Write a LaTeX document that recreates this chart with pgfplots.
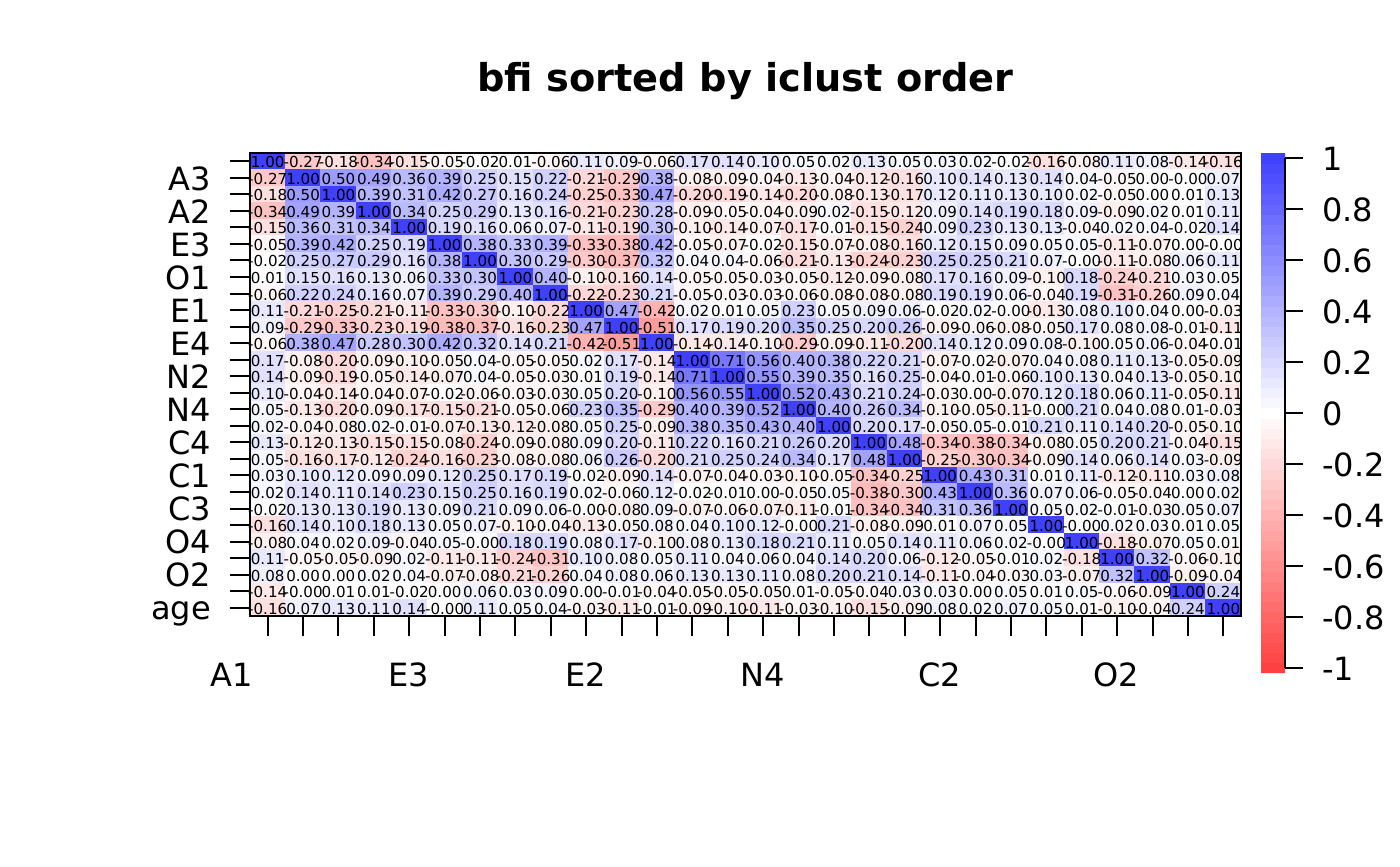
\documentclass[border=0pt]{standalone}
\usepackage{fontspec}
\setmainfont{DejaVu Sans}
\usepackage{pgfplots}
\usepackage{pgfplotstable}
\pgfplotsset{compat=1.18}

% correlations, row after row
\pgfplotstableread[row sep=crcr]{
r\\
1.00\\-0.27\\-0.18\\-0.34\\-0.15\\-0.05\\-0.02\\0.01\\-0.06\\0.11\\0.09\\-0.06\\0.17\\0.14\\0.10\\0.05\\0.02\\0.13\\0.05\\0.03\\0.02\\-0.02\\-0.16\\-0.08\\0.11\\0.08\\-0.14\\-0.16\\
-0.27\\1.00\\0.50\\0.49\\0.36\\0.39\\0.25\\0.15\\0.22\\-0.21\\-0.29\\0.38\\-0.08\\-0.09\\-0.04\\-0.13\\-0.04\\-0.12\\-0.16\\0.10\\0.14\\0.13\\0.14\\0.04\\-0.05\\0.00\\-0.00\\0.07\\
-0.18\\0.50\\1.00\\0.39\\0.31\\0.42\\0.27\\0.16\\0.24\\-0.25\\-0.33\\0.47\\-0.20\\-0.19\\-0.14\\-0.20\\-0.08\\-0.13\\-0.17\\0.12\\0.11\\0.13\\0.10\\0.02\\-0.05\\0.00\\0.01\\0.13\\
-0.34\\0.49\\0.39\\1.00\\0.34\\0.25\\0.29\\0.13\\0.16\\-0.21\\-0.23\\0.28\\-0.09\\-0.05\\-0.04\\-0.09\\0.02\\-0.15\\-0.12\\0.09\\0.14\\0.19\\0.18\\0.09\\-0.09\\0.02\\0.01\\0.11\\
-0.15\\0.36\\0.31\\0.34\\1.00\\0.19\\0.16\\0.06\\0.07\\-0.11\\-0.19\\0.30\\-0.10\\-0.14\\-0.07\\-0.17\\-0.01\\-0.15\\-0.24\\0.09\\0.23\\0.13\\0.13\\-0.04\\0.02\\0.04\\-0.02\\0.14\\
-0.05\\0.39\\0.42\\0.25\\0.19\\1.00\\0.38\\0.33\\0.39\\-0.33\\-0.38\\0.42\\-0.05\\-0.07\\-0.02\\-0.15\\-0.07\\-0.08\\-0.16\\0.12\\0.15\\0.09\\0.05\\0.05\\-0.11\\-0.07\\0.00\\-0.00\\
-0.02\\0.25\\0.27\\0.29\\0.16\\0.38\\1.00\\0.30\\0.29\\-0.30\\-0.37\\0.32\\0.04\\0.04\\-0.06\\-0.21\\-0.13\\-0.24\\-0.23\\0.25\\0.25\\0.21\\0.07\\-0.00\\-0.11\\-0.08\\0.06\\0.11\\
0.01\\0.15\\0.16\\0.13\\0.06\\0.33\\0.30\\1.00\\0.40\\-0.10\\-0.16\\0.14\\-0.05\\-0.05\\-0.03\\-0.05\\-0.12\\-0.09\\-0.08\\0.17\\0.16\\0.09\\-0.10\\0.18\\-0.24\\-0.21\\0.03\\0.05\\
-0.06\\0.22\\0.24\\0.16\\0.07\\0.39\\0.29\\0.40\\1.00\\-0.22\\-0.23\\0.21\\-0.05\\-0.03\\-0.03\\-0.06\\-0.08\\-0.08\\-0.08\\0.19\\0.19\\0.06\\-0.04\\0.19\\-0.31\\-0.26\\0.09\\0.04\\
0.11\\-0.21\\-0.25\\-0.21\\-0.11\\-0.33\\-0.30\\-0.10\\-0.22\\1.00\\0.47\\-0.42\\0.02\\0.01\\0.05\\0.23\\0.05\\0.09\\0.06\\-0.02\\0.02\\-0.00\\-0.13\\0.08\\0.10\\0.04\\0.00\\-0.03\\
0.09\\-0.29\\-0.33\\-0.23\\-0.19\\-0.38\\-0.37\\-0.16\\-0.23\\0.47\\1.00\\-0.51\\0.17\\0.19\\0.20\\0.35\\0.25\\0.20\\0.26\\-0.09\\-0.06\\-0.08\\-0.05\\0.17\\0.08\\0.08\\-0.01\\-0.11\\
-0.06\\0.38\\0.47\\0.28\\0.30\\0.42\\0.32\\0.14\\0.21\\-0.42\\-0.51\\1.00\\-0.14\\-0.14\\-0.10\\-0.29\\-0.09\\-0.11\\-0.20\\0.14\\0.12\\0.09\\0.08\\-0.10\\0.05\\0.06\\-0.04\\-0.01\\
0.17\\-0.08\\-0.20\\-0.09\\-0.10\\-0.05\\0.04\\-0.05\\-0.05\\0.02\\0.17\\-0.14\\1.00\\0.71\\0.56\\0.40\\0.38\\0.22\\0.21\\-0.07\\-0.02\\-0.07\\0.04\\0.08\\0.11\\0.13\\-0.05\\-0.09\\
0.14\\-0.09\\-0.19\\-0.05\\-0.14\\-0.07\\0.04\\-0.05\\-0.03\\0.01\\0.19\\-0.14\\0.71\\1.00\\0.55\\0.39\\0.35\\0.16\\0.25\\-0.04\\-0.01\\-0.06\\0.10\\0.13\\0.04\\0.13\\-0.05\\-0.10\\
0.10\\-0.04\\-0.14\\-0.04\\-0.07\\-0.02\\-0.06\\-0.03\\-0.03\\0.05\\0.20\\-0.10\\0.56\\0.55\\1.00\\0.52\\0.43\\0.21\\0.24\\-0.03\\0.00\\-0.07\\0.12\\0.18\\0.06\\0.11\\-0.05\\-0.11\\
0.05\\-0.13\\-0.20\\-0.09\\-0.17\\-0.15\\-0.21\\-0.05\\-0.06\\0.23\\0.35\\-0.29\\0.40\\0.39\\0.52\\1.00\\0.40\\0.26\\0.34\\-0.10\\-0.05\\-0.11\\-0.00\\0.21\\0.04\\0.08\\0.01\\-0.03\\
0.02\\-0.04\\-0.08\\0.02\\-0.01\\-0.07\\-0.13\\-0.12\\-0.08\\0.05\\0.25\\-0.09\\0.38\\0.35\\0.43\\0.40\\1.00\\0.20\\0.17\\-0.05\\0.05\\-0.01\\0.21\\0.11\\0.14\\0.20\\-0.05\\-0.10\\
0.13\\-0.12\\-0.13\\-0.15\\-0.15\\-0.08\\-0.24\\-0.09\\-0.08\\0.09\\0.20\\-0.11\\0.22\\0.16\\0.21\\0.26\\0.20\\1.00\\0.48\\-0.34\\-0.38\\-0.34\\-0.08\\0.05\\0.20\\0.21\\-0.04\\-0.15\\
0.05\\-0.16\\-0.17\\-0.12\\-0.24\\-0.16\\-0.23\\-0.08\\-0.08\\0.06\\0.26\\-0.20\\0.21\\0.25\\0.24\\0.34\\0.17\\0.48\\1.00\\-0.25\\-0.30\\-0.34\\-0.09\\0.14\\0.06\\0.14\\0.03\\-0.09\\
0.03\\0.10\\0.12\\0.09\\0.09\\0.12\\0.25\\0.17\\0.19\\-0.02\\-0.09\\0.14\\-0.07\\-0.04\\-0.03\\-0.10\\-0.05\\-0.34\\-0.25\\1.00\\0.43\\0.31\\0.01\\0.11\\-0.12\\-0.11\\0.03\\0.08\\
0.02\\0.14\\0.11\\0.14\\0.23\\0.15\\0.25\\0.16\\0.19\\0.02\\-0.06\\0.12\\-0.02\\-0.01\\0.00\\-0.05\\0.05\\-0.38\\-0.30\\0.43\\1.00\\0.36\\0.07\\0.06\\-0.05\\-0.04\\0.00\\0.02\\
-0.02\\0.13\\0.13\\0.19\\0.13\\0.09\\0.21\\0.09\\0.06\\-0.00\\-0.08\\0.09\\-0.07\\-0.06\\-0.07\\-0.11\\-0.01\\-0.34\\-0.34\\0.31\\0.36\\1.00\\0.05\\0.02\\-0.01\\-0.03\\0.05\\0.07\\
-0.16\\0.14\\0.10\\0.18\\0.13\\0.05\\0.07\\-0.10\\-0.04\\-0.13\\-0.05\\0.08\\0.04\\0.10\\0.12\\-0.00\\0.21\\-0.08\\-0.09\\0.01\\0.07\\0.05\\1.00\\-0.00\\0.02\\0.03\\0.01\\0.05\\
-0.08\\0.04\\0.02\\0.09\\-0.04\\0.05\\-0.00\\0.18\\0.19\\0.08\\0.17\\-0.10\\0.08\\0.13\\0.18\\0.21\\0.11\\0.05\\0.14\\0.11\\0.06\\0.02\\-0.00\\1.00\\-0.18\\-0.07\\0.05\\0.01\\
0.11\\-0.05\\-0.05\\-0.09\\0.02\\-0.11\\-0.11\\-0.24\\-0.31\\0.10\\0.08\\0.05\\0.11\\0.04\\0.06\\0.04\\0.14\\0.20\\0.06\\-0.12\\-0.05\\-0.01\\0.02\\-0.18\\1.00\\0.32\\-0.06\\-0.10\\
0.08\\0.00\\0.00\\0.02\\0.04\\-0.07\\-0.08\\-0.21\\-0.26\\0.04\\0.08\\0.06\\0.13\\0.13\\0.11\\0.08\\0.20\\0.21\\0.14\\-0.11\\-0.04\\-0.03\\0.03\\-0.07\\0.32\\1.00\\-0.09\\-0.04\\
-0.14\\-0.00\\0.01\\0.01\\-0.02\\0.00\\0.06\\0.03\\0.09\\0.00\\-0.01\\-0.04\\-0.05\\-0.05\\-0.05\\0.01\\-0.05\\-0.04\\0.03\\0.03\\0.00\\0.05\\0.01\\0.05\\-0.06\\-0.09\\1.00\\0.24\\
-0.16\\0.07\\0.13\\0.11\\0.14\\-0.00\\0.11\\0.05\\0.04\\-0.03\\-0.11\\-0.01\\-0.09\\-0.10\\-0.11\\-0.03\\-0.10\\-0.15\\-0.09\\0.08\\0.02\\0.07\\0.05\\0.01\\-0.10\\-0.04\\0.24\\1.00\\
}\heat

\begin{document}
\begin{tikzpicture}
\useasboundingbox (0,0) rectangle (700pt,433pt);
\begin{axis}[
    at={(125pt,125pt)}, anchor=south west,
    scale only axis, width=495.5pt, height=231.5pt,
    xmin=-0.5, xmax=27.5, ymin=-0.5, ymax=27.5, y dir=reverse,
    axis on top,
    axis line style={line width=1pt},
    tick style={line width=1pt, black},
    tick align=outside, major tick length=10pt,
    xtick pos=bottom, ytick pos=left,
    xtick={0,...,27}, ytick={0,...,27},
    xticklabels={A1,,,,,E3,,,,,E2,,,,,N4,,,,,C2,,,,,O2,,},
    yticklabels={,A3,,A2,,E3,,O1,,E1,,E4,,N2,,N4,,C4,,C1,,C3,,O4,,O2,,age},
    typeset ticklabels with strut,
    tick label style={font=\fontsize{16}{18}\selectfont},
    x tick label style={xshift=-18pt, yshift=-9pt},
    y tick label style={xshift=-6pt, yshift=-2.5pt},
    title={\fontsize{19.15}{22}\selectfont\bfseries bfi sorted by iclust order},
    title style={yshift=17pt},
    colormap={brw}{rgb255(0)=(255,64,64); rgb255(1)=(255,255,255); rgb255(2)=(64,64,255)},
    colormap={brw51}{samples of colormap=(51 of brw)},
    colormap name=brw51,
    colormap access=piecewise constant,
    point meta min=-1.02, point meta max=1.02,
    colorbar sampled,
    colorbar style={
        at={(1.0202,1)}, anchor=north west,
        scale only axis, width=12pt, height=260pt,
        samples=52,
        axis line style={draw=none},
        tick style={line width=1pt, black},
        tick align=outside, major tick length=9pt,
        ytick pos=right, xtick=\empty,
        ytick={-1,-0.8,-0.6,-0.4,-0.2,0,0.2,0.4,0.6,0.8,1},
        yticklabels={-1,-0.8,-0.6,-0.4,-0.2,0,0.2,0.4,0.6,0.8,1},
        yticklabel pos=right,
        yticklabel style={font=\fontsize{16}{18}\selectfont, anchor=west, xshift=6pt, yshift=-0.5pt},
        after end axis/.code={\draw[line width=1pt] (rel axis cs:1,0.0098)--(rel axis cs:1,0.9902);},
    },
]
\addplot[matrix plot*, mesh/cols=28, point meta=explicit]
    table[x index=0, y index=0, x expr={\coordindex-28*floor((\coordindex+0.5)/28)}, y expr={floor((\coordindex+0.5)/28)}, meta=r] {\heat};
\addplot[only marks, mark=none, black, point meta=explicit symbolic,
    nodes near coords,
    every node near coord/.append style={anchor=center, inner sep=0pt, text=black, yshift=-0.5pt, font=\fontsize{7.55}{8}\selectfont}]
    table[x index=0, y index=0, x expr={\coordindex-28*floor((\coordindex+0.5)/28)}, y expr={floor((\coordindex+0.5)/28)}, meta=r] {\heat};
\end{axis}
\end{tikzpicture}
\end{document}
